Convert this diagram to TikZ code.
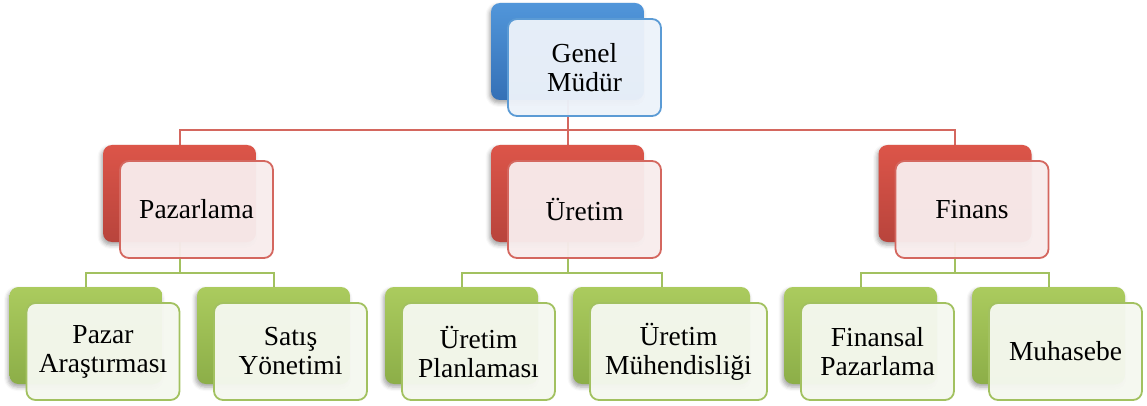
\documentclass[tikz,border=0pt]{standalone}
\usepackage{fontspec}
\setmainfont{Liberation Serif}
\usetikzlibrary{shadows.blur,backgrounds}

\definecolor{blueTop}{HTML}{5196DA}
\definecolor{blueBot}{HTML}{3470B6}
\definecolor{blueLine}{HTML}{5B9BD5}
\definecolor{blueFill}{HTML}{ECF2FA}
\definecolor{redTop}{HTML}{DC5549}
\definecolor{redBot}{HTML}{B8443C}
\definecolor{redLine}{HTML}{D4675F}
\definecolor{redFill}{HTML}{F8ECEC}
\definecolor{greenTop}{HTML}{ABCB5E}
\definecolor{greenBot}{HTML}{8CAE48}
\definecolor{greenLine}{HTML}{A2C160}
\definecolor{greenFill}{HTML}{F5F8EF}

\tikzset{
  backbox/.style={rectangle, rounded corners=9pt, minimum height=97pt,
    inner sep=0pt, draw=none,
    blur shadow={shadow xshift=-1.5pt, shadow yshift=-3pt,
      shadow blur radius=4pt, shadow opacity=35}},
  frontbox/.style={rectangle, rounded corners=9pt, minimum height=97pt,
    inner sep=0pt, line width=1.8pt, fill opacity=0.96, text opacity=1,
    align=center, text=black, font=\fontsize{27.5}{29}\selectfont},
  blueback/.style={top color=blueTop, bottom color=blueBot},
  bluefront/.style={draw=blueLine, fill=blueFill},
  redback/.style={top color=redTop, bottom color=redBot},
  redfront/.style={draw=redLine, fill=redFill},
  greenback/.style={top color=greenTop, bottom color=greenBot},
  greenfront/.style={draw=greenLine, fill=greenFill},
  redlink/.style={draw=redLine, line width=2pt},
  greenlink/.style={draw=greenLine, line width=2pt},
}

% back card #1 centred at (#2,#3), width #4, colour theme #5, label #6
\newcommand\orgunit[6]{%
  \node[backbox,#5back,minimum width=#4pt] (#1) at (#2,#3) {};
  \node[frontbox,#5front,minimum width=#4pt] (#1f) at (#2+17,#3+16) {#6};
}

\begin{document}
\begin{tikzpicture}[x=1pt,y=-1pt]
\useasboundingbox (0,0) rectangle (1147,406);

% top level
\orgunit{gm}{567.5}{51.5}{153}{blue}{Genel\\Müdür}

% departments
\orgunit{paz}{179.5}{193.5}{153}{red}{Pazarlama}
\orgunit{ure}{567.5}{193.5}{153}{red}{Üretim}
\orgunit{fin}{955}{193.5}{153}{red}{Finans}

% units
\orgunit{pa}{86}{335.5}{153}{green}{Pazar\\Araştırması}
\orgunit{sy}{273.5}{335.5}{153}{green}{Satış\\Yönetimi}
\orgunit{up}{461.5}{335.5}{153}{green}{Üretim\\Planlaması}
\orgunit{um}{661.5}{335.5}{177}{green}{Üretim\\Mühendisliği}
\orgunit{fp}{860.5}{335.5}{153}{green}{Finansal\\Pazarlama}
\orgunit{mu}{1048.5}{335.5}{153}{green}{Muhasebe}

% connector buses
\coordinate (bus0) at (0,130);
\coordinate (bus1) at (0,273);

\begin{scope}[on background layer]
  \draw[redlink] (gm.center) -- (gm.center |- bus0) -| (paz.center);
  \draw[redlink] (gm.center |- bus0) -| (ure.center);
  \draw[redlink] (gm.center |- bus0) -| (fin.center);

  \draw[greenlink] (paz.center) -- (paz.center |- bus1) -| (pa.center);
  \draw[greenlink] (paz.center |- bus1) -| (sy.center);

  \draw[greenlink] (ure.center) -- (ure.center |- bus1) -| (up.center);
  \draw[greenlink] (ure.center |- bus1) -| (um.center);

  \draw[greenlink] (fin.center) -- (fin.center |- bus1) -| (fp.center);
  \draw[greenlink] (fin.center |- bus1) -| (mu.center);
\end{scope}
\end{tikzpicture}
\end{document}
